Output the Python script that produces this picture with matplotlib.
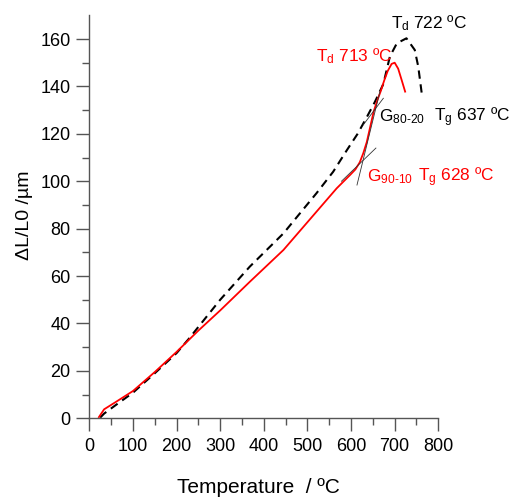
import matplotlib
matplotlib.use('Agg')
import matplotlib.pyplot as plt
import numpy as np
from matplotlib.ticker import FixedLocator

plt.rcParams['font.family'] = ['Liberation Sans', 'DejaVu Sans']
plt.rcParams['mathtext.fontset'] = 'custom'
plt.rcParams['mathtext.rm'] = 'Liberation Sans'
plt.rcParams['mathtext.it'] = 'Liberation Sans:italic'

# red sample (solid)
temp_red = [22, 34, 60, 100, 150, 200, 250, 300, 368, 445, 521, 567, 598,
            610, 620, 628, 636, 644, 652, 660, 668, 676, 684, 693, 700, 708,
            716, 724]
dl_red = [0.5, 3.8, 6.8, 11.5, 19.5, 28, 37, 45.5, 57.6, 71, 87.2, 97, 102.7,
          105, 108, 111.8, 116.5, 123, 129.5, 134, 138, 142.5, 146.5,
          149.5, 150, 147.5, 142.7, 137.8]

# black sample (dashed)
temp_blk = [25, 34, 60, 100, 150, 200, 228, 300, 368, 445, 521, 559, 590,
            615, 636, 655, 674, 689, 705, 727, 746, 754, 762]
dl_blk = [0.3, 2, 5.5, 10.8, 19, 27.5, 33.5, 50, 64, 78, 95, 104, 113,
          120, 127, 133.6, 141, 152.6, 158.2, 160.3, 155.4, 148.4, 137.1]

# tangent construction lines: (T0, T1), (y0, y1)
tangents = [
    ([628, 674], [123.8, 135]),
    ([613.6, 666], [98.4, 137.7]),
    ([578, 657], [100, 114]),
]

fig = plt.figure(figsize=(5.09, 4.97), dpi=100)
ax = fig.add_axes([89.3 / 509, 1 - 418.3 / 497, 349 / 509, 403 / 497])

ax.plot(temp_blk, dl_blk, color='black', lw=1.5, dashes=(4, 2.7))
ax.plot(temp_red, dl_red, color='#ff0000', lw=1.3)
for tx, ty in tangents:
    ax.plot(tx, ty, color='#333333', lw=0.6)

ax.set_xlim(0, 800)
ax.set_ylim(0, 170)
ax.set_xticks(np.arange(0, 801, 100))
ax.set_yticks(np.arange(0, 161, 20))
ax.xaxis.set_minor_locator(FixedLocator(np.arange(50, 800, 100)))
ax.yaxis.set_minor_locator(FixedLocator(np.arange(10, 160, 20)))

for s in ['top', 'right']:
    ax.spines[s].set_visible(False)
for s in ['left', 'bottom']:
    ax.spines[s].set_color('#555555')
    ax.spines[s].set_linewidth(1.0)
ax.tick_params(which='major', length=9.4, width=1.0, color='#555555',
               labelsize=13, pad=4)
ax.tick_params(which='minor', length=5, width=1.0, color='#555555')
ax.tick_params(axis='x', which='major', pad=5)

ax.set_xlabel('Temperature  / ºC', fontsize=15)
ax.xaxis.set_label_coords(0.485, -0.149)
ax.set_ylabel('ΔL/L0 /µm', fontsize=14)
ax.yaxis.set_label_coords(-0.187, 0.504)
ax.yaxis.label.set_va('center')

fs = 12.4
ax.text(519.6, 150.5, r'T$_{\mathregular{d}}$ 713 ºC', color='#ff0000',
        fontsize=fs, va='baseline', ha='left')
ax.text(690.8, 164.6, r'T$_{\mathregular{d}}$ 722 ºC', color='black',
        fontsize=fs, va='baseline', ha='left')
ax.text(664, 125.1, r'G$_{\mathregular{80\text{-}20}}$', color='black',
        fontsize=fs, va='baseline', ha='left')
ax.text(790, 125.1, r'T$_{\mathregular{g}}$ 637 ºC', color='black',
        fontsize=fs, va='baseline', ha='left')
ax.text(635.7, 99.8, r'G$_{\mathregular{90\text{-}10}}$', color='#ff0000',
        fontsize=fs, va='baseline', ha='left')
ax.text(754, 99.8, r'T$_{\mathregular{g}}$ 628 ºC', color='#ff0000',
        fontsize=fs, va='baseline', ha='left')

fig.savefig('out.png', dpi=100)
